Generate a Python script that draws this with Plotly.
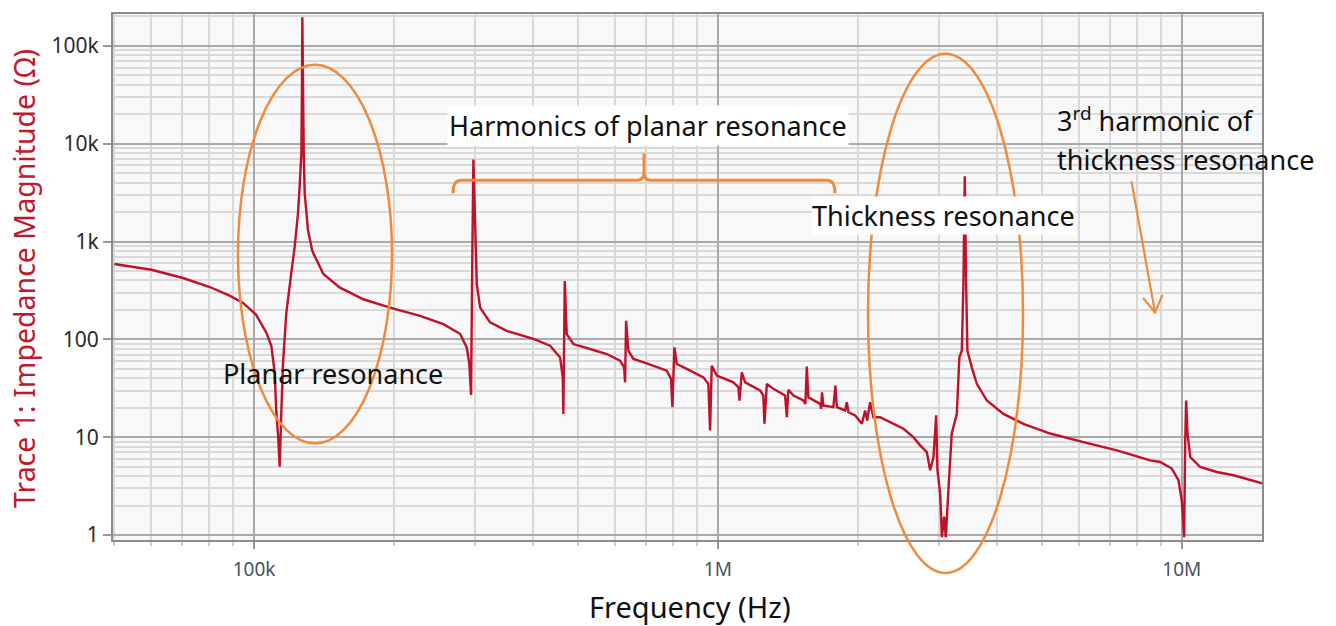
import plotly.graph_objects as go

# ---------------- data ----------------
freq_khz = [50, 60.1, 70.3, 80.3, 88.6, 94.7, 101, 106.3, 109, 110.8,
            111.7, 112.7, 113.6, 114.5, 115.5, 117.4, 120.3, 122.4, 124.4, 125.4,
            126.5, 126.9, 127.1, 127.4, 128.0, 128.6, 130.7, 133.6, 141.1, 153.2,
            172.1, 196.5, 228, 256, 278, 287.5, 291.2, 293.7, 295.6, 297.1,
            302.2, 307.2, 322.8, 350.7, 400.2, 434.8, 456.9, 463, 464.4, 467.6,
            472.3, 488.1, 530.3, 576.1, 615.3, 627.8, 630.9, 634, 641.3, 657.4,
            702.5, 775.9, 792.7, 797.8, 805.8, 815.5, 857, 930.5, 953.9, 962,
            970, 994.5, 1080, 1107, 1113, 1126, 1145, 1233, 1253, 1260,
            1275, 1317, 1396, 1408, 1419, 1455, 1529, 1544, 1555, 1567,
            1661, 1669, 1677, 1688, 1774, 1792, 1805, 1881, 1897, 1912,
            1977, 2044, 2077, 2098, 2129, 2164, 2237, 2351, 2512, 2639,
            2729, 2821, 2868, 2916, 2955, 2974, 3014, 3040, 3074, 3100,
            3140, 3193, 3274, 3316, 3356, 3383, 3406, 3429, 3451, 3527,
            3616, 3800, 4126, 4557, 5204, 6139, 7247, 8551, 8985, 9521,
            9837, 10000, 10120, 10170, 10220, 10290, 10430, 10960, 11900, 12930,
            14910]

impedance_ohm = [590, 515, 424, 343, 280, 236, 179, 117, 85.5, 45.7,
                 17.9, 10.4, 5.0, 17.9, 57.8, 187, 476, 891, 1946, 3640,
                 7943, 44300, 196000, 68700, 7943, 3110, 1315, 798, 466, 338,
                 257, 211, 174, 143, 114, 82.7, 56.4, 27, 798, 6900,
                 366, 211, 149, 122, 101, 86.1, 65.4, 40.9, 17.3, 395,
                 113, 89.6, 79.7, 70.8, 60.5, 51.8, 36.4, 155, 76.5, 63.0,
                 56.8, 47.9, 39.4, 20.3, 82.7, 56.0, 49.9, 40.9, 35.1, 11.7,
                 53.8, 42.6, 36.4, 32.4, 23.7, 46.0, 36.4, 30.0, 26.7, 13.7,
                 35.1, 31.2, 26.7, 16.0, 30.5, 26.7, 23.7, 21.9, 52.6, 25.6,
                 21.9, 19.5, 28.8, 21.1, 20.3, 33.7, 20.3, 18.75, 22.8, 18.0,
                 16.7, 13.7, 18.75, 14.8, 22.8, 16.0, 16.0, 14.25, 12.2, 10.0,
                 8.25, 7.05, 4.59, 6.27, 16.7, 4.59, 2.66, 0.95, 1.54, 0.95,
                 2.87, 10.9, 17.3, 65.4, 76.5, 366, 4634, 366, 76.5, 51.8,
                 35.1, 23.7, 17.3, 13.7, 10.9, 8.91, 7.34, 5.80, 5.58, 4.78,
                 3.63, 2.27, 0.95, 8.59, 23.7, 10.9, 6.27, 4.96, 4.41, 4.08,
                 3.38]

x_tick_vals = [1e5, 1e6, 1e7]
x_tick_text = ["100k", "1M", "10M"]
y_tick_vals = [1, 10, 100, 1000, 10000, 100000]
y_tick_text = ["1", "10", "100", "1k", "10k", "100k"]

freq_hz = [f * 1e3 for f in freq_khz]

# ---------------- layout helpers ----------------
W, H = 1336, 626
PL, PR, PT, PB = 113, 1262, 12, 540


def px(x):
    return (x - PL) / (PR - PL)


def py(y):
    return (PB - y) / (PB - PT)


minor_x = [m * 10 ** e for e in range(4, 8) for m in range(2, 10)]
minor_y = [m * 10 ** e for e in range(-1, 6) for m in range(2, 10)]

RED = "#bf1129"
ORANGE = "#f08a3c"
FONT = "Noto Sans"

fig = go.Figure()
fig.add_trace(go.Scatter(x=freq_hz, y=impedance_ohm, mode="lines",
                         line=dict(color=RED, width=2.4, simplify=False),
                         hoverinfo="skip"))

fig.update_layout(
    width=W, height=H,
    margin=dict(l=PL, r=W - PR, t=PT, b=H - PB),
    paper_bgcolor="white",
    plot_bgcolor="#f8f8f8",
    showlegend=False,
    hovermode=False,
    font=dict(family=FONT),
)

fig.update_xaxes(
    type="log", range=[4.696, 7.173],
    tickmode="array", tickvals=x_tick_vals, ticktext=x_tick_text,
    showgrid=True, gridcolor="#aaaaaa", gridwidth=1.5,
    minor=dict(tickmode="array", tickvals=minor_x, showgrid=True,
               gridcolor="#d9d9d9", gridwidth=1.5, ticks="outside",
               ticklen=4, tickcolor="#cccccc"),
    ticks="outside", ticklen=7, tickcolor="#999999", tickwidth=1.5,
    showline=True, linecolor="#8c8c8c", linewidth=2, mirror=True,
    zeroline=False,
    tickfont=dict(family=FONT, size=19, color="#4a525c"),
    ticklabelstandoff=4,
)
fig.update_yaxes(
    type="log", range=[-0.051, 5.326],
    tickmode="array", tickvals=y_tick_vals, ticktext=y_tick_text,
    showgrid=True, gridcolor="#aaaaaa", gridwidth=1.5,
    minor=dict(tickmode="array", tickvals=minor_y, showgrid=True,
               gridcolor="#d9d9d9", gridwidth=1.5),
    ticks="outside", ticklen=8, tickcolor="#999999", tickwidth=1.5,
    showline=True, linecolor="#8c8c8c", linewidth=2, mirror=True,
    zeroline=False,
    tickfont=dict(family=FONT, size=21, color="#2a2a2a"),
)

shapes = []
# ellipses
shapes.append(dict(type="circle", xref="paper", yref="paper",
                   x0=px(238), x1=px(392), y0=py(443), y1=py(63),
                   line=dict(color=ORANGE, width=2.5)))
shapes.append(dict(type="circle", xref="paper", yref="paper",
                   x0=px(868), x1=px(1023), y0=py(573), y1=py(52),
                   line=dict(color=ORANGE, width=2.5)))


def P(x, y):
    return f"{px(x):.5f},{py(y):.5f}"


bracket = (f"M {P(453,192)} Q {P(453,179)} {P(461,179)} L {P(636,179)} "
           f"Q {P(644,179)} {P(644,171)} L {P(644,152)} "
           f"M {P(644,171)} Q {P(644,179)} {P(652,179)} L {P(827,179)} "
           f"Q {P(835,179)} {P(835,192)}")
shapes.append(dict(type="path", xref="paper", yref="paper", path=bracket,
                   line=dict(color=ORANGE, width=3)))
arrow = (f"M {P(1131.5,180)} L {P(1155,311.5)} "
         f"M {P(1143,297)} L {P(1155,311.5)} L {P(1162.5,294)}")
shapes.append(dict(type="path", xref="paper", yref="paper", path=arrow,
                   line=dict(color=ORANGE, width=2.2)))
fig.update_layout(shapes=shapes)

ann_font = dict(family=FONT, size=27, color="#111111")
annotations = [
    dict(text="Planar resonance", x=px(221), y=py(373), xanchor="left",
         yanchor="middle", font=ann_font),
    dict(text="Harmonics of planar resonance", x=px(648), y=py(124),
         xanchor="center", yanchor="middle", font=ann_font,
         bgcolor="white", borderpad=1),
    dict(text="Thickness resonance", x=px(943), y=py(214), xanchor="center",
         yanchor="middle", font=ann_font, bgcolor="white", borderpad=0),
    dict(text="3<sup>rd</sup> harmonic of", x=px(1055), y=py(118),
         xanchor="left", yanchor="middle", font=ann_font),
    dict(text="thickness resonance", x=px(1055), y=py(158), xanchor="left",
         yanchor="middle", font=ann_font),
    dict(text="Trace 1: Impedance Magnitude (Ω)", x=px(24), y=py(278),
         xanchor="center", yanchor="middle", textangle=-90,
         font=dict(family=FONT, size=28.5, color="#c0182d")),
    dict(text="Frequency (Hz)", x=px(690), y=py(607), xanchor="center",
         yanchor="middle", font=dict(family=FONT, size=29, color="#111111")),
]
for a in annotations:
    a.update(xref="paper", yref="paper", showarrow=False)
fig.update_layout(annotations=annotations)

fig.write_html("out.html", config={"displayModeBar": False})
